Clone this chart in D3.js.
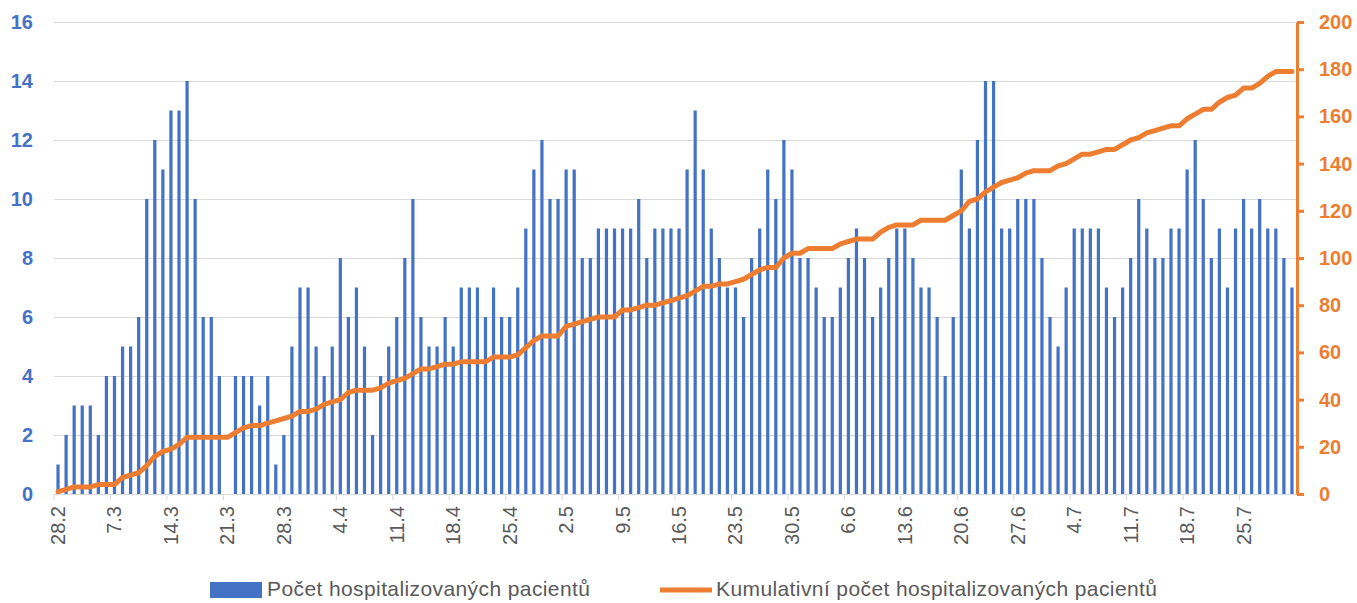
<!DOCTYPE html>
<meta charset="utf-8">
<title>Hospitalizace</title>
<style>

body {
  margin: 0;
  background: #fff;
}

svg {
  display: block;
  font-family: "Liberation Sans", Arial, sans-serif;
}

.grid line {
  stroke: #d9d9d9;
  shape-rendering: crispEdges;
}

.axis-left text {
  fill: #4472c4;
  font-weight: bold;
  font-size: 20px;
}

.axis-right text {
  fill: #ed7d31;
  font-weight: bold;
  font-size: 20px;
}

.axis-x text {
  fill: #595959;
  font-size: 20px;
}

.legend text {
  fill: #595959;
  font-size: 21px;
  letter-spacing: 0.4px;
}

</style>
<body>
<script src="https://d3js.org/d3.v7.min.js"></script>
<script>

// labels shown under the x axis (every 7th day)
var tickLabels = ["28.2", "7.3", "14.3", "21.3", "28.3", "4.4", "11.4", "18.4", "25.4",
  "2.5", "9.5", "16.5", "23.5", "30.5", "6.6", "13.6", "20.6", "27.6",
  "4.7", "11.7", "18.7", "25.7"];

// daily values, 28.2 - 31.7
var hospitalized = [
  1, 2, 3, 3, 3, 2, 4, 4, 5, 5,
  6, 10, 12, 11, 13, 13, 14, 10, 6, 6,
  4, 0, 4, 4, 4, 3, 4, 1, 2, 5,
  7, 7, 5, 4, 5, 8, 6, 7, 5, 2,
  4, 5, 6, 8, 10, 6, 5, 5, 6, 5,
  7, 7, 7, 6, 7, 6, 6, 7, 9, 11,
  12, 10, 10, 11, 11, 8, 8, 9, 9, 9,
  9, 9, 10, 8, 9, 9, 9, 9, 11, 13,
  11, 9, 8, 7, 7, 6, 8, 9, 11, 10,
  12, 11, 8, 8, 7, 6, 6, 7, 8, 9,
  8, 6, 7, 8, 9, 9, 8, 7, 7, 6,
  4, 6, 11, 9, 12, 14, 14, 9, 9, 10,
  10, 10, 8, 6, 5, 7, 9, 9, 9, 9,
  7, 6, 7, 8, 10, 9, 8, 8, 9, 9,
  11, 12, 10, 8, 9, 7, 9, 10, 9, 10,
  9, 9, 8, 7
];

var cumulative = [
  1, 2, 3, 3, 3, 4, 4, 4, 7, 8,
  9, 12, 16, 18, 19, 21, 24, 24, 24, 24,
  24, 24, 26, 28, 29, 29, 30, 31, 32, 33,
  35, 35, 36, 38, 39, 40, 43, 44, 44, 44,
  45, 47, 48, 49, 51, 53, 53, 54, 55, 55,
  56, 56, 56, 56, 58, 58, 58, 59, 62, 65,
  67, 67, 67, 71, 72, 73, 74, 75, 75, 75,
  78, 78, 79, 80, 80, 81, 82, 83, 84, 86,
  88, 88, 89, 89, 90, 91, 93, 95, 96, 96,
  100, 102, 102, 104, 104, 104, 104, 106, 107, 108,
  108, 108, 111, 113, 114, 114, 114, 116, 116, 116,
  116, 118, 120, 124, 125, 128, 130, 132, 133, 134,
  136, 137, 137, 137, 139, 140, 142, 144, 144, 145,
  146, 146, 148, 150, 151, 153, 154, 155, 156, 156,
  159, 161, 163, 163, 166, 168, 169, 172, 172, 174,
  177, 179, 179, 179
];

var leftTicks = [0, 2, 4, 6, 8, 10, 12, 14, 16];
var rightTicks = [0, 20, 40, 60, 80, 100, 120, 140, 160, 180, 200];

var fmt = d3.timeFormat("%-d.%-m");
var days = d3.timeDay.range(new Date(2021, 1, 28), new Date(2021, 7, 1)).map(fmt);

var data = days.map(function(d, i) {
  return {day: d, value: hospitalized[i], cum: cumulative[i]};
});

var width = 1357, height = 603;
var plot = {left: 54, right: 1296, top: 22, bottom: 494};

var svg = d3.select("body").append("svg")
    .attr("width", width)
    .attr("height", height);

var x = d3.scaleBand()
    .domain(days)
    .range([plot.left, plot.right])
    .paddingInner(0.6)
    .paddingOuter(0.3);

var y = d3.scaleLinear()
    .domain([0, 16])
    .range([plot.bottom, plot.top]);

var y2 = d3.scaleLinear()
    .domain([0, 200])
    .range([plot.bottom, plot.top]);

// gridlines
svg.append("g")
    .attr("class", "grid")
  .selectAll("line")
    .data(leftTicks)
  .enter().append("line")
    .attr("x1", plot.left)
    .attr("x2", plot.right)
    .attr("y1", function(d) { return Math.round(y(d)) + 0.5; })
    .attr("y2", function(d) { return Math.round(y(d)) + 0.5; });

// bars
svg.append("g")
  .selectAll("rect")
    .data(data)
  .enter().append("rect")
    .attr("x", function(d) { return x(d.day); })
    .attr("width", x.bandwidth())
    .attr("y", function(d) { return y(d.value); })
    .attr("height", function(d) { return y(0) - y(d.value); })
    .attr("fill", "#4472c4");

// x axis: labels at the day, ticks on the day boundary
var xAxis = svg.append("g")
    .attr("class", "axis-x")
    .attr("transform", "translate(0," + plot.bottom + ")")
    .call(d3.axisBottom(x).tickSize(0).tickValues(tickLabels));

xAxis.select(".domain").attr("stroke", "#d9d9d9");

xAxis.selectAll("text")
    .attr("transform", "rotate(-90)")
    .attr("x", -12)
    .attr("y", 0)
    .attr("dy", "0.35em")
    .style("text-anchor", "end");

xAxis.selectAll(".tick")
  .append("line")
    .attr("x1", -x.step() / 2)
    .attr("x2", -x.step() / 2)
    .attr("y1", 0)
    .attr("y2", 6)
    .attr("stroke", "#d9d9d9");

// left axis
var leftAxis = svg.append("g")
    .attr("class", "axis-left")
    .attr("transform", "translate(" + plot.left + ",0)")
    .call(d3.axisLeft(y).tickValues(leftTicks).tickSize(0).tickPadding(21));
leftAxis.select(".domain").remove();

// cumulative line
var line = d3.line()
    .x(function(d) { return x(d.day) + x.bandwidth() / 2; })
    .y(function(d) { return y2(d.cum); });

svg.append("path")
    .datum(data)
    .attr("fill", "none")
    .attr("stroke", "#ed7d31")
    .attr("stroke-width", 5)
    .attr("stroke-linejoin", "round")
    .attr("stroke-linecap", "round")
    .attr("d", line);

// right axis
var rightAxis = svg.append("g")
    .attr("class", "axis-right")
    .attr("transform", "translate(" + (plot.right + 1) + ",0)")
    .call(d3.axisRight(y2).tickValues(rightTicks).tickSize(7).tickSizeOuter(0).tickPadding(15));

rightAxis.select(".domain")
    .attr("stroke", "#ed7d31")
    .attr("stroke-width", 3);
rightAxis.selectAll(".tick line")
    .attr("stroke", "#ed7d31")
    .attr("stroke-width", 3);

// legend
var legend = svg.append("g").attr("class", "legend");

legend.append("rect")
    .attr("x", 210)
    .attr("y", 582)
    .attr("width", 52)
    .attr("height", 16)
    .attr("fill", "#4472c4");

legend.append("text")
    .attr("x", 267)
    .attr("y", 589)
    .attr("dy", "0.35em")
    .text("Počet hospitalizovaných pacientů");

legend.append("line")
    .attr("x1", 660)
    .attr("x2", 712)
    .attr("y1", 590)
    .attr("y2", 590)
    .attr("stroke", "#ed7d31")
    .attr("stroke-width", 5);

legend.append("text")
    .attr("x", 716)
    .attr("y", 589)
    .attr("dy", "0.35em")
    .text("Kumulativní počet hospitalizovaných pacientů");

</script>
</body>
